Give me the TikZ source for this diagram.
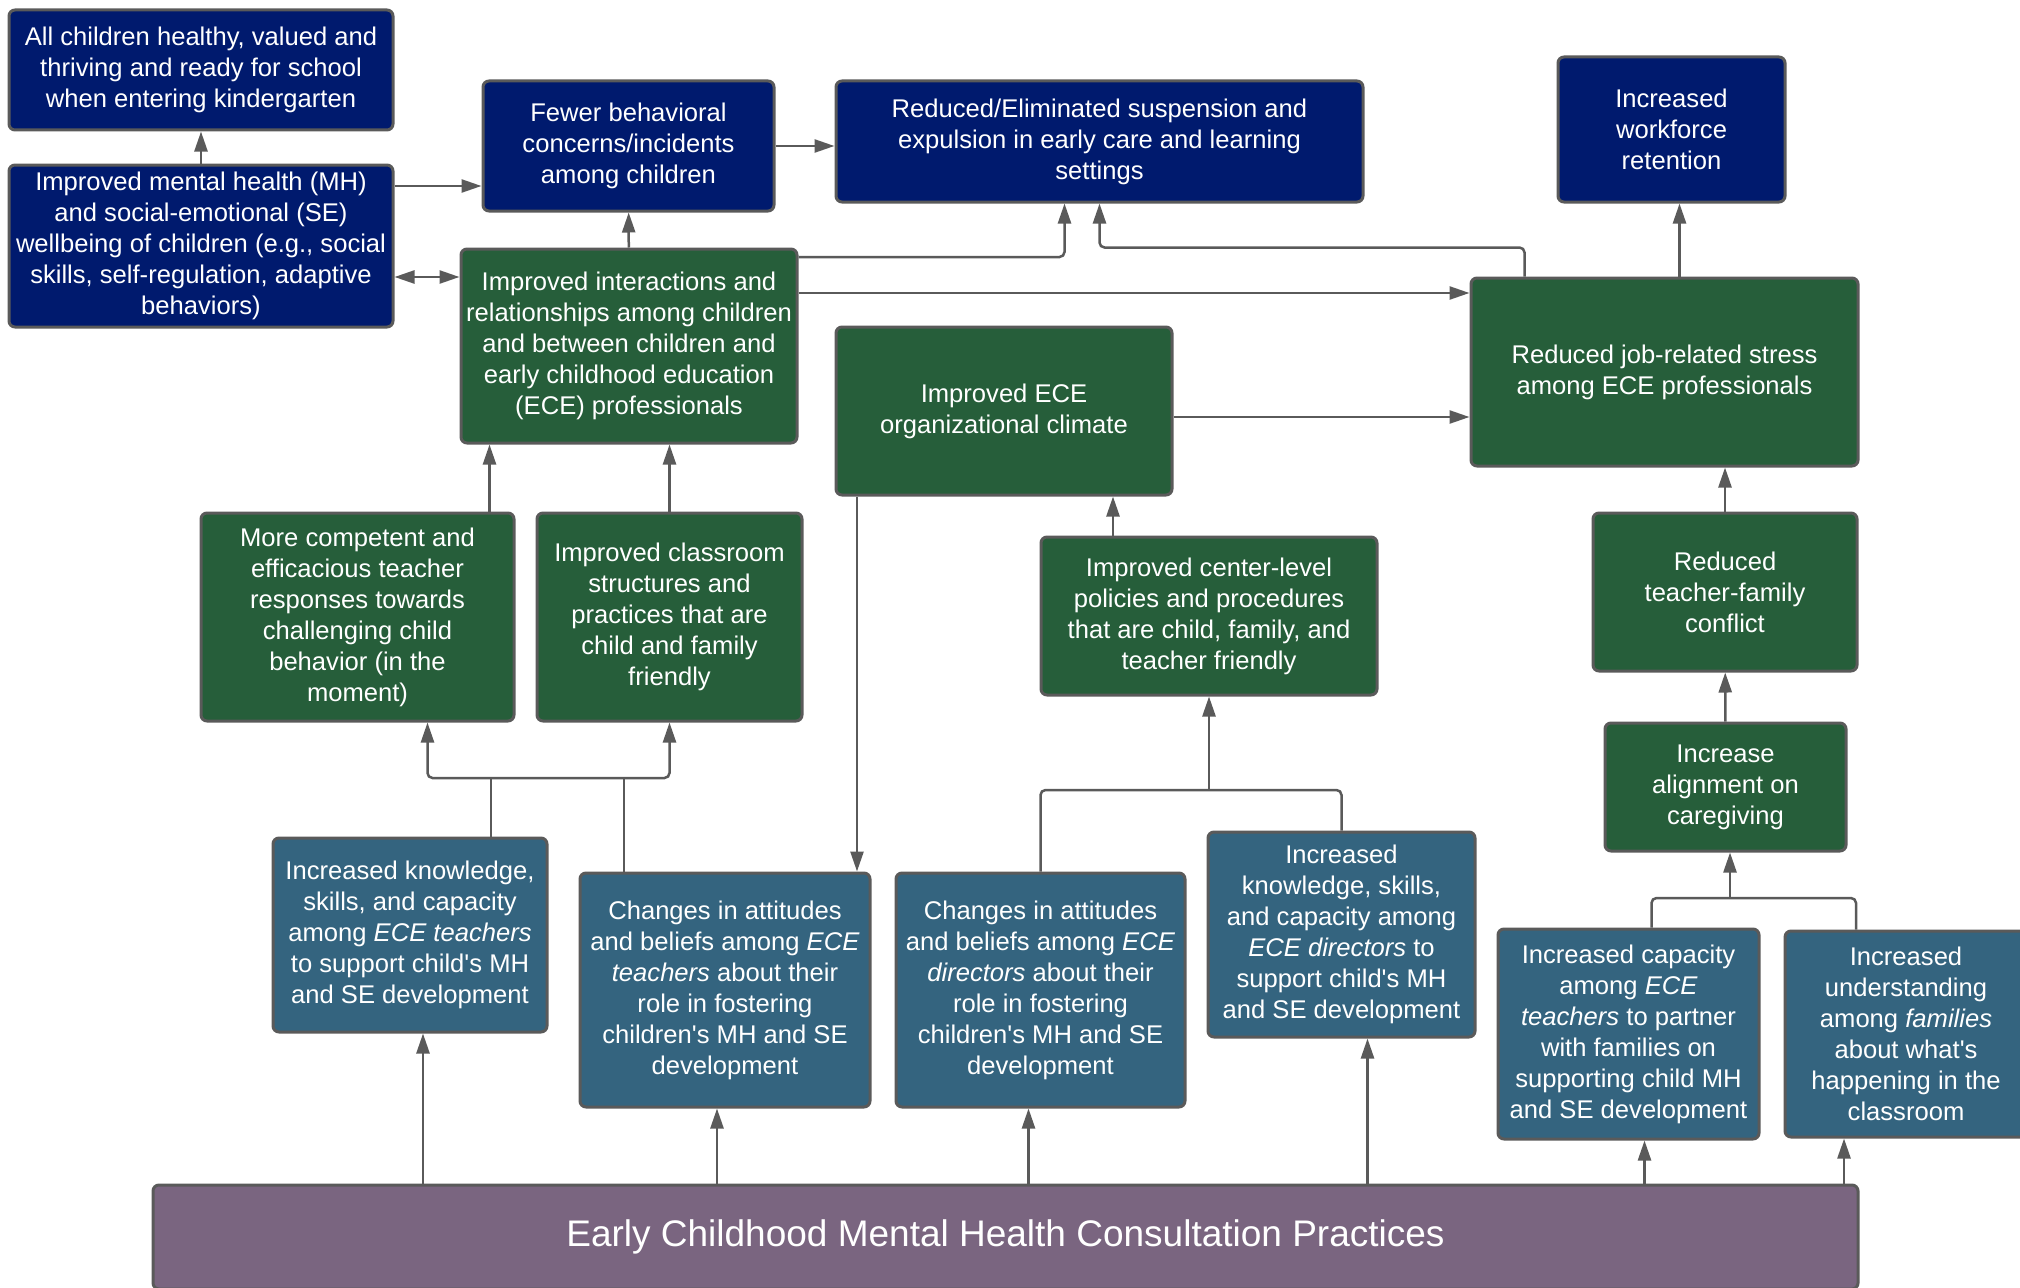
\documentclass[tikz,border=0pt]{standalone}
\usepackage{fontspec}
\setmainfont{Liberation Sans}
\usetikzlibrary{arrows.meta}
\definecolor{navy}{HTML}{001A6E}
\definecolor{leaf}{HTML}{265E3A}
\definecolor{slate}{HTML}{34647F}
\definecolor{plum}{HTML}{7A6580}
\definecolor{wire}{HTML}{5A5A5A}
\tikzset{
  basic/.style  = {draw=wire, line width=3pt, rectangle, rounded corners=6pt,
                   align=center, text=white, font=\fontsize{25.6}{31}\selectfont},
  root/.style   = {basic, fill=plum, font=\fontsize{37}{44}\selectfont},
  long term/.style  = {basic, fill=navy},
  mid term/.style   = {basic, fill=leaf},
  short term/.style = {basic, fill=slate}
}

\begin{document}
\begin{tikzpicture}[x=1pt, y=-1pt,
  color=wire, line width=2.5pt,
  >={Triangle[length=20pt,width=13pt]}]

\clip (0,0) rectangle (2020,1287);

% long term outcomes
\node[long term, minimum width=384pt, minimum height=120pt] (A) at (201,70)
  {All children healthy, valued and\\thriving and ready for school\\when entering kindergarten};
\node[long term, minimum width=384pt, minimum height=162pt] (B) at (201,246)
  {Improved mental health (MH)\\and social-emotional (SE)\\wellbeing of children (e.g., social\\skills, self-regulation, adaptive\\behaviors)};
\node[long term, minimum width=291pt, minimum height=130pt] (C) at (628.5,146)
  {Fewer behavioral\\concerns/incidents\\among children};
\node[long term, minimum width=527pt, minimum height=121pt] (D) at (1099.5,141.5)
  {Reduced/Eliminated suspension and\\expulsion in early care and learning\\settings};
\node[long term, minimum width=227pt, minimum height=145pt] (E) at (1671.5,129.5)
  {Increased\\workforce\\retention};

% intermediate outcomes
\begin{scope}[every node/.style={mid term}]
\node[minimum width=336pt, minimum height=194pt] (F) at (629,346)
  {Improved interactions and\\relationships among children\\and between children and\\early childhood education\\(ECE) professionals};
\node[minimum width=336pt, minimum height=168pt] (G) at (1004,411)
  {Improved ECE\\organizational climate};
\node[minimum width=387pt, minimum height=188pt] (H) at (1664.5,372)
  {Reduced job-related stress\\among ECE professionals};
\node[minimum width=313pt, minimum height=208pt] (I) at (357.5,617)
  {More competent and\\efficacious teacher\\responses towards\\challenging child\\behavior (in the\\moment)};
\node[minimum width=265pt, minimum height=208pt] (J) at (669.5,617)
  {Improved classroom\\structures and\\practices that are\\child and family\\friendly};
\node[minimum width=336pt, minimum height=158pt] (K) at (1209,616)
  {Improved center-level\\policies and procedures\\that are child, family, and\\teacher friendly};
\node[minimum width=264pt, minimum height=158pt] (L) at (1725,592)
  {Reduced\\teacher-family\\conflict};
\node[minimum width=241pt, minimum height=128pt] (M) at (1725.5,787)
  {Increase\\alignment on\\caregiving};
\end{scope}

% short term outcomes
\begin{scope}[every node/.style={short term}]
\node[minimum width=274pt, minimum height=194pt] (N) at (410,935)
  {Increased knowledge,\\skills, and capacity\\among \textit{ECE teachers}\\to support child\textquotesingle s MH\\and SE development};
\node[minimum width=290pt, minimum height=234pt] (O) at (725,990)
  {Changes in attitudes\\and beliefs among \textit{ECE}\\\textit{teachers} about their\\role in fostering\\children\textquotesingle s MH and SE\\development};
\node[minimum width=289pt, minimum height=234pt] (P) at (1040.5,990)
  {Changes in attitudes\\and beliefs among \textit{ECE}\\\textit{directors} about their\\role in fostering\\children\textquotesingle s MH and SE\\development};
\node[minimum width=267pt, minimum height=205pt] (Q) at (1341.5,934.5)
  {Increased\\knowledge, skills,\\and capacity among\\\textit{ECE directors} to\\support child\textquotesingle s MH\\and SE development};
\node[minimum width=261pt, minimum height=210pt] (R) at (1628.5,1034)
  {Increased capacity\\among \textit{ECE}\\\textit{teachers} to partner\\with families on\\supporting child MH\\and SE development};
\node[minimum width=242pt, minimum height=206pt] (S) at (1906,1034)
  {Increased\\understanding\\among \textit{families}\\about what\textquotesingle s\\happening in the\\classroom};
\end{scope}

% the practices
\node[root, minimum width=1705pt, minimum height=104pt] (T) at (1005.5,1237)
  {Early Childhood Mental Health Consultation Practices};

% junctions of the merging lines
\coordinate (ijbus) at (548,778);
\coordinate (kbus) at (1209,790);
\coordinate (mbus) at (1730,898);

% practices to short term
\foreach \n/\dx in {N/13,O/-8,P/-12,Q/26,R/16,S/-62}
  \draw[->] ([xshift=\dx pt]\n.south |- T.north) -- ([xshift=\dx pt]\n.south);

% short term to intermediate
\draw[<->, rounded corners=5pt] ([xshift=70pt]I.south) |- (ijbus) -| (J.south);
\draw ([xshift=81pt]N.north) -- ([xshift=81pt]N.north |- ijbus);
\draw ([xshift=-101pt]O.north) -- ([xshift=-101pt]O.north |- ijbus);
\draw[rounded corners=5pt] (P.north) |- (kbus) -| (Q.north);
\draw[->] (kbus) -- (K.south);
\draw[rounded corners=5pt] ([xshift=23pt]R.north) |- (mbus) -| ([xshift=-50pt]S.north);
\draw[->] (mbus) -- (mbus |- M.south);

% intermediate links
\draw[->] ([xshift=132pt]I.north) -- ([xshift=132pt]I.north |- F.south);
\draw[->] (J) -- (J |- F.south);
\draw[->] ([xshift=-96pt]K.north) -- ([xshift=-96pt]K.north |- G.south);
\draw[->] ([xshift=-147pt]G.south) -- ([xshift=-147pt]G.south |- O.north);
\draw[->] (M) -- (L);
\draw[->] (L) -- (L |- H.south);
\draw[->] ([yshift=-6pt]G.east) -- ([yshift=-6pt]G.east -| H.west);
\draw[->] ([yshift=53pt]F.east) -- ([yshift=53pt]F.east -| H.west);

% up to the long term outcomes
\draw[->] (F) -- (C);
\draw[->, rounded corners=5pt] ([yshift=89pt]F.east) -| ([xshift=-35pt]D.south);
\draw[->, rounded corners=5pt] ([xshift=-140pt]H.north) -- ++(0,-29) -| (D.south);
\draw[->] ([xshift=15pt]H.north) -- ([xshift=15pt]H.north |- E.south);
\draw[<->] ([yshift=-31pt]B.east) -- ([yshift=-31pt]B.east -| F.west);
\draw[->] ([yshift=60pt]B.east) -- ([yshift=60pt]B.east -| C.west);
\draw[->] (C.east) -- (C.east -| D.west);
\draw[->] (B) -- (A);

\end{tikzpicture}
\end{document}
